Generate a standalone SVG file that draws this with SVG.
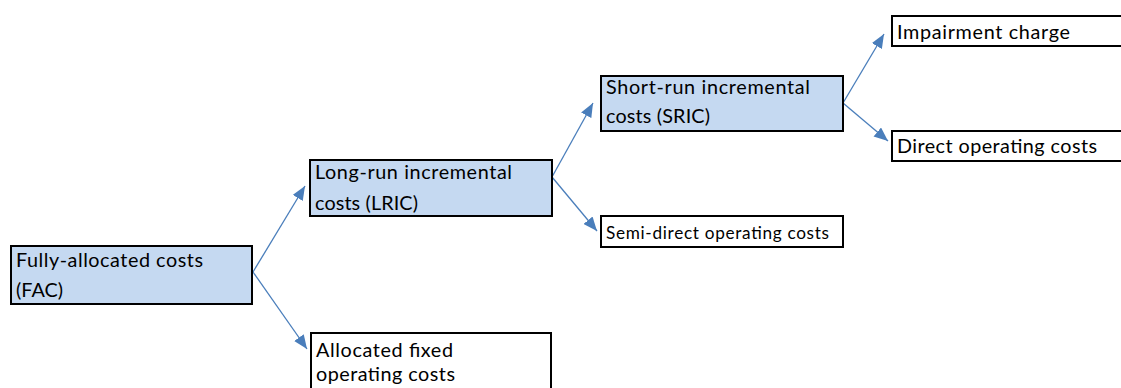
<svg xmlns="http://www.w3.org/2000/svg" width="1121" height="388" viewBox="0 0 1121 388">
<style>
.box{stroke:#000;stroke-width:2}
.blue{fill:#C5D9F1}
.white{fill:#fff}
.t{font-family:Lato,"Liberation Sans",sans-serif;font-size:19.8px;fill:#000}
.s{font-size:17.2px}
.conn line{stroke:#4A7EBB;stroke-width:1.3;fill:none}
</style>
<defs>
<marker id="ah" markerUnits="userSpaceOnUse" markerWidth="14" markerHeight="12" refX="12" refY="5" orient="auto" viewBox="0 0 12 10">
<path d="M0,0 L12,5 L0,10 Z" fill="#4A7EBB"/>
</marker>
</defs>
<rect width="1121" height="388" fill="#fff"/>
<g id="conns" class="conn">
<line x1="253" y1="272" x2="305" y2="186" marker-end="url(#ah)"/>
<line x1="253" y1="272" x2="307" y2="349" marker-end="url(#ah)"/>
<line x1="552" y1="177" x2="593" y2="103" marker-end="url(#ah)"/>
<line x1="552" y1="177" x2="597" y2="231" marker-end="url(#ah)"/>
<line x1="843" y1="103" x2="884" y2="34" marker-end="url(#ah)"/>
<line x1="843" y1="103" x2="888" y2="141" marker-end="url(#ah)"/>
</g>
<g id="fac">
<rect class="box blue" x="11" y="246" width="241" height="58"/>
<text class="t" x="16" y="267" textLength="187">Fully-allocated costs</text>
<text class="t" x="16" y="297" textLength="47">(FAC)</text>
</g>
<g id="lric">
<rect class="box blue" x="310" y="160" width="242" height="56"/>
<text class="t" x="315" y="179" textLength="197">Long-run incremental</text>
<text class="t" x="315" y="210" textLength="103">costs (LRIC)</text>
</g>
<g id="alloc">
<rect class="box white" x="311" y="333" width="240" height="70"/>
<text class="t" x="316" y="357" textLength="137">Allocated fixed</text>
<text class="t" x="316" y="381" textLength="139">operating costs</text>
</g>
<g id="sric">
<rect class="box blue" x="601" y="76" width="242" height="55"/>
<text class="t" x="606" y="94" textLength="204">Short-run incremental</text>
<text class="t" x="606" y="123" textLength="104">costs (SRIC)</text>
</g>
<g id="semi">
<rect class="box white" x="601" y="216" width="242" height="31"/>
<text class="t s" x="606" y="239" textLength="223">Semi-direct operating costs</text>
</g>
<g id="impair">
<rect class="box white" x="892" y="16" width="240" height="30"/>
<text class="t" x="897" y="39" textLength="173">Impairment charge</text>
</g>
<g id="direct">
<rect class="box white" x="892" y="131" width="240" height="30"/>
<text class="t" x="897" y="153" textLength="200">Direct operating costs</text>
</g>
</svg>
